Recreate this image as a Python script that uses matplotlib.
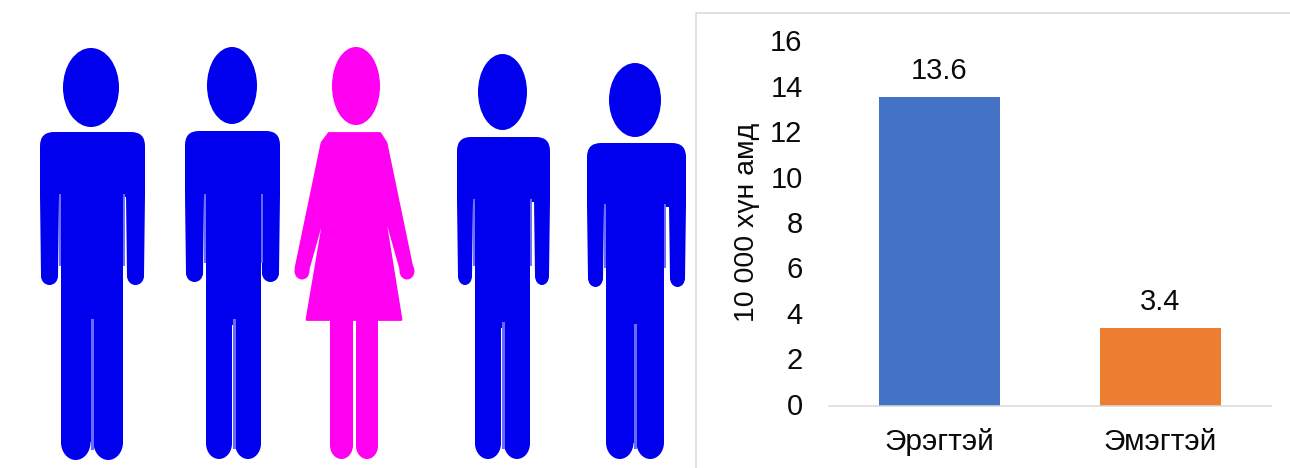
import matplotlib
matplotlib.use('Agg')
import matplotlib.pyplot as plt
from matplotlib.patches import Ellipse, FancyBboxPatch, Polygon, Rectangle
from matplotlib.transforms import ScaledTranslation

plt.rcParams['font.family'] = ['Liberation Sans', 'DejaVu Sans']

categories = ['Эрэгтэй', 'Эмэгтэй']
values = [13.6, 3.4]
value_labels = ['13.6', '3.4']
bar_colors = ['#4472C4', '#ED7D31']
y_ticks = [0, 2, 4, 6, 8, 10, 12, 14, 16]
y_title = '10 000 хүн амд'

# pictogram men: left, right, torso left, torso right, head left, head right,
# head top, head bottom, shoulder, arm end, slit start, leg gap start, foot
men = [
    (40, 145, 61, 123, 63, 119, 48, 127, 132, 285, 195, 320, 460),
    (185, 280, 206, 261, 207, 257, 47, 124, 131, 282, 195, 320, 459),
    (457, 550, 475, 530, 478, 527, 54, 130, 137, 285, 200, 323, 459),
    (587, 686, 606, 664, 609, 661, 63, 137, 143, 287, 205, 325, 459),
]
blue = '#0000EE'
slit_blue = '#6A6AFF'
pink = '#FF00F0'


def rrect(ax, x0, y0, x1, y1, r, color):
    ax.add_patch(FancyBboxPatch((x0, y0), x1 - x0, y1 - y0,
                                boxstyle='round,pad=0,rounding_size=%g' % r,
                                fc=color, ec='none'))


def capsule(ax, x0, y0, x1, y1, color):
    # straight limb with a round end at the bottom
    w = x1 - x0
    ax.add_patch(Rectangle((x0, y0), w, y1 - y0 - w * 0.6, fc=color, ec='none'))
    ax.add_patch(Ellipse(((x0 + x1) / 2, y1 - w * 0.6), w, w * 1.2, fc=color, ec='none'))


def draw_man(ax, m):
    left, right, tl, tr, hl, hr, ht, hb, sh, arm, slit, gap, foot = m
    ax.add_patch(Ellipse(((hl + hr) / 2, (ht + hb) / 2), hr - hl, hb - ht, fc=blue, ec='none'))
    rrect(ax, left, sh, right, slit - 20, 14, blue)
    ax.add_patch(Rectangle((left, sh + 14), right - left, slit - sh - 12, fc=blue, ec='none'))
    aw = tl - left - 2
    # arms narrow a little towards the hand
    ax.add_patch(Polygon([(left, slit), (left + aw, slit), (left + aw - 1, arm - 9), (left + 1, arm - 9)],
                         fc=blue, ec='none'))
    ax.add_patch(Polygon([(right, slit), (right - aw, slit), (right - aw + 1, arm - 9), (right - 1, arm - 9)],
                         fc=blue, ec='none'))
    ax.add_patch(Ellipse((left + aw / 2, arm - 9), aw - 2, 18, fc=blue, ec='none'))
    ax.add_patch(Ellipse((right - aw / 2, arm - 9), aw - 2, 18, fc=blue, ec='none'))
    ax.add_patch(Rectangle((tl, sh + 5), tr - tl, gap - sh, fc=blue, ec='none'))
    mid = (tl + tr) / 2
    capsule(ax, tl, gap - 10, mid - 1.5, foot, blue)
    capsule(ax, mid + 1.5, gap - 10, tr, foot, blue)
    # the lighter gaps of the blurred image
    ax.plot([tl - 1, tl - 1], [slit, arm - 20], color=slit_blue, lw=1.4)
    ax.plot([tr + 1, tr + 1], [slit, arm - 20], color=slit_blue, lw=1.4)
    ax.plot([mid, mid], [gap, foot - 12], color=slit_blue, lw=2.2)


def draw_woman(ax):
    ax.add_patch(Ellipse((356, 86), 48, 78, fc=pink, ec='none'))
    body = [(329, 133.5), (380, 133.5), (386, 143), (412, 268), (402, 273), (382, 202),
            (401, 319.5), (307, 319.5), (327, 202), (307, 273), (296, 268), (322, 143)]
    ax.add_patch(Polygon(body, closed=True, fc=pink, ec=pink, lw=2, joinstyle='round'))
    ax.add_patch(Ellipse((302, 271), 15, 17, fc=pink, ec='none'))
    ax.add_patch(Ellipse((407, 271), 15, 17, fc=pink, ec='none'))
    capsule(ax, 330, 310, 353, 459, pink)
    capsule(ax, 356, 310, 378, 459, pink)


fig = plt.figure(figsize=(12.9, 4.68), dpi=100, facecolor='white')

# full figure layer in pixels for the pictogram and the panel frame
bg = fig.add_axes([0, 0, 1, 1])
bg.set_xlim(0, 1290)
bg.set_ylim(468, 0)
bg.axis('off')
for m in men:
    draw_man(bg, m)
draw_woman(bg)
bg.plot([696, 696, 1290], [468, 12.5, 12.5], color='#D9D9D9', lw=1.1)

ax = fig.add_axes([829 / 1290, (468 - 405.5) / 468, 442 / 1290, 363.5 / 468])
ax.patch.set_alpha(0)
bars = ax.bar(categories, values, width=0.552, color=bar_colors)
ax.bar_label(bars, labels=value_labels, padding=8.5, fontsize=21, color='#0A0A0A')
ax.set_xlim(-0.5, 1.5)
ax.set_ylim(0, 16)
ax.set_yticks(y_ticks)
ax.tick_params(axis='y', length=0, pad=19, labelsize=21, labelcolor='#0A0A0A')
ax.tick_params(axis='x', length=0, pad=16, labelsize=21.5, labelcolor='#0A0A0A')
up = ScaledTranslation(0, 1.3 / 72, fig.dpi_scale_trans)
for lab in ax.get_yticklabels():
    lab.set_transform(lab.get_transform() + up)
for s in ['top', 'right', 'left']:
    ax.spines[s].set_visible(False)
ax.spines['bottom'].set_color('#D9D9D9')
ax.spines['bottom'].set_linewidth(1.1)
ax.set_ylabel(y_title, fontsize=20.5, color='#0A0A0A', va='center')
ax.yaxis.set_label_coords((747 - 829) / 442, (405.5 - 222) / 363.5)

fig.savefig('out.png', dpi=100)
